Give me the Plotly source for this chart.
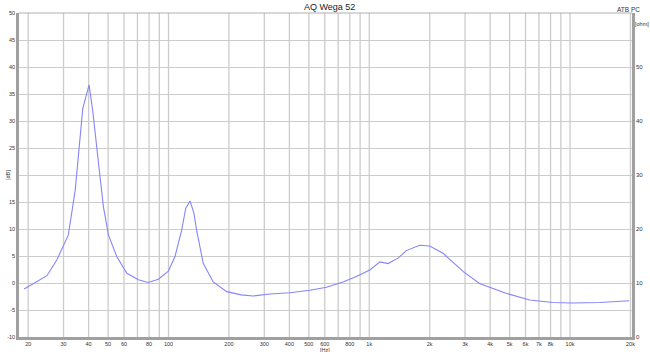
import plotly.graph_objects as go
import math

# Impedance curve
freq_hz = [19.1, 24.8, 27.8, 31.7, 34.3, 37.4, 40.2, 41.9, 44.8, 47.4, 50.2, 55.2,
           62.0, 70.8, 79.3, 89.0, 99.8, 107.7, 116.3, 121.8, 128.0, 133.9, 138.0,
           143.5, 149.0, 167.0, 195.0, 230.0, 264.0, 320.0, 402.0, 506.0, 612.0,
           740.0, 862.0, 1006.0, 1130.0, 1240.0, 1390.0, 1530.0, 1780.0, 2000.0,
           2330.0, 2940.0, 3540.0, 4800.0, 6300.0, 8200.0, 10300.0, 14000.0, 19700.0]
impedance_ohm = [8.9, 11.35, 14.3, 18.9, 27.2, 42.3, 46.7, 42.0, 32.2, 24.1, 18.9, 14.9,
                 11.8, 10.6, 10.1, 10.7, 12.2, 14.9, 19.8, 23.8, 25.2, 22.9, 19.8,
                 16.4, 13.6, 10.2, 8.4, 7.8, 7.6, 7.96, 8.2, 8.65, 9.2,
                 10.2, 11.2, 12.4, 13.9, 13.6, 14.6, 16.0, 17.0, 16.85,
                 15.5, 12.1, 9.9, 8.1, 6.85, 6.4, 6.3, 6.4, 6.7]

x_tickvals = [20, 30, 40, 50, 60, 80, 100, 200, 300, 400, 500, 600, 800, 1000,
              2000, 3000, 4000, 5000, 6000, 7000, 8000, 10000, 20000]
x_ticktext = ["20", "30", "40", "50", "60", "80", "100", "200", "300", "400", "500",
              "600", "800", "1k", "2k", "3k", "4k", "5k", "6k", "7k", "8k", "10k", "20k"]
x_gridvals = [m * 10 ** d for d in range(1, 5) for m in range(1, 10)
              if 18 <= m * 10 ** d <= 20000]
db_tickvals = list(range(-10, 55, 5))
db_ticktext = ["" if v == 20 else str(v) for v in db_tickvals]
ohm_tickvals = [0, 10, 20, 30, 40, 50]

FONT = "Liberation Sans, Arial, sans-serif"
GRID = "#cccccc"
AXIS = "#a0a0a0"

fig = go.Figure()
# empty trace so the dB axis (left) is drawn with its grid
fig.add_trace(go.Scatter(x=[100], y=[None], mode="lines", yaxis="y",
                         showlegend=False, hoverinfo="skip"))
fig.add_trace(go.Scatter(x=freq_hz, y=impedance_ohm, mode="lines", yaxis="y2",
                         line=dict(color="#8585fa", width=1.1), showlegend=False,
                         hoverinfo="skip"))

shapes = []
for v in x_gridvals:
    shapes.append(dict(type="line", xref="x", yref="paper", x0=v, x1=v, y0=0, y1=1,
                       line=dict(color=GRID, width=1.3), layer="below"))
shapes.append(dict(type="line", xref="paper", yref="paper", x0=0, x1=1, y0=1, y1=1,
                   line=dict(color="#b0b0b0", width=1)))

fig.update_layout(
    width=650, height=352,
    margin=dict(l=19, r=18, t=13, b=15),
    paper_bgcolor="white", plot_bgcolor="white",
    font=dict(family=FONT, size=5.5, color="#333333"),
    xaxis=dict(type="log", range=[math.log10(18.0), math.log10(20350)],
               tickvals=x_tickvals, ticktext=x_ticktext, showgrid=False,
               showline=True, linewidth=2.5, linecolor=AXIS, ticks="",
               tickfont=dict(size=5.5), zeroline=False, automargin=False),
    yaxis=dict(range=[-10, 50], tickvals=db_tickvals, ticktext=db_ticktext,
               showgrid=True, automargin=False,
               gridcolor=GRID, gridwidth=1.3, zeroline=False, showline=True,
               linewidth=2.5, linecolor=AXIS, ticks="", tickfont=dict(size=5.5)),
    yaxis2=dict(range=[0, 60], overlaying="y", side="right", tickvals=ohm_tickvals,
                showgrid=False, zeroline=False, showline=True, linewidth=2.5,
                automargin=False,
                linecolor=AXIS, ticks="", tickfont=dict(size=6)),
    shapes=shapes,
    annotations=[
        dict(text="AQ Wega 52", xref="paper", yref="paper", x=0.507, y=1.0,
             yanchor="bottom", xanchor="center", showarrow=False,
             font=dict(size=9, color="#222222"), yshift=-1),
        dict(text="ATB PC", xref="paper", yref="paper", x=0.995, y=1.0,
             yanchor="bottom", xanchor="center", showarrow=False,
             font=dict(size=6.5, color="#333333"), yshift=-2),
        dict(text="[ohm]", xref="paper", yref="paper", x=1.0, y=0.966,
             xanchor="left", yanchor="middle", showarrow=False, xshift=1,
             font=dict(size=5.5, color="#333333")),
        dict(text="[dB]", xref="paper", yref="y", x=0.0, y=20,
             xanchor="center", yanchor="middle", showarrow=False, xshift=-11,
             textangle=-90, font=dict(size=5.5, color="#333333")),
        dict(text="[Hz]", xref="x", yref="paper", x=math.log10(600), y=0.0,
             xanchor="center", yanchor="top", showarrow=False, yshift=-8,
             font=dict(size=5.5, color="#333333")),
    ],
)

fig.write_html("out.html")
